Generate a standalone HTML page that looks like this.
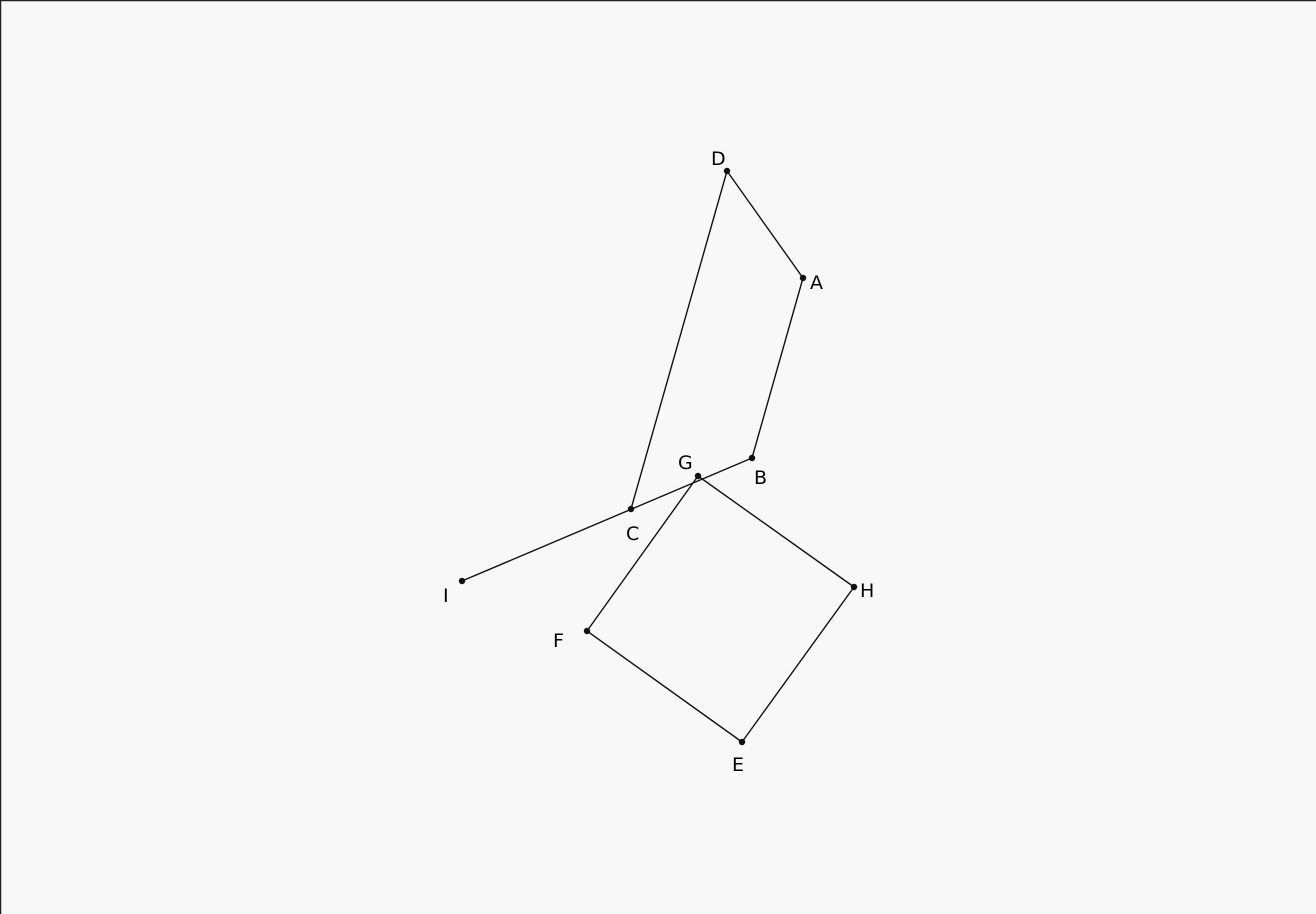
<!DOCTYPE html>
<html><head><meta charset="utf-8"><style>
html,body{margin:0;padding:0;background:#f8f8f8;}
svg{display:block;}
text{font-family:"DejaVu Sans","Liberation Sans",sans-serif;font-size:19px;fill:#000;}
</style></head><body>
<svg id="fig" width="1316" height="914" viewBox="0 0 1316 914">
<rect x="0" y="0" width="1316" height="914" fill="#f8f8f8"/>
<line x1="0.5" y1="0" x2="0.5" y2="914" stroke="#222" stroke-width="1.5"/>
<line x1="0" y1="0.5" x2="1316" y2="0.5" stroke="#222" stroke-width="1.5"/>
<g id="segs"></g><g id="pts"></g><g id="lbls"></g>
</svg>
<script>
const names = ["A","B","C","D","E","F","G","H","I"];
const px = [803,752,631,727,742,587,698,854,462];
const py = [278,458,509,171,742,631,476,587,581];
const labelDx = [7,2,-5,-16,-10,-34,-20,6,-19];
const labelDy = [11,26,31,-6,29,16,-7,10,21];
const edges = [["D","A"],["A","B"],["B","I"],["D","C"],["G","H"],["H","E"],["E","F"],["F","G"]];
const NS="http://www.w3.org/2000/svg";
const idx=n=>names.indexOf(n);
const segs=document.getElementById('segs'),pts=document.getElementById('pts'),lbls=document.getElementById('lbls');
edges.forEach(e=>{
  const a=idx(e[0]),b=idx(e[1]);
  const l=document.createElementNS(NS,'line');
  l.setAttribute('x1',px[a]);l.setAttribute('y1',py[a]);l.setAttribute('x2',px[b]);l.setAttribute('y2',py[b]);
  l.setAttribute('stroke','#111');l.setAttribute('stroke-width','1.4');
  
  
  segs.appendChild(l);
});
names.forEach((n,i)=>{
  const c=document.createElementNS(NS,'circle');
  c.setAttribute('cx',px[i]);c.setAttribute('cy',py[i]);c.setAttribute('r','3.2');c.setAttribute('fill','#111');
  
  
  pts.appendChild(c);
  const t=document.createElementNS(NS,'text');
  t.setAttribute('x',px[i]+labelDx[i]);t.setAttribute('y',py[i]+labelDy[i]);
  t.textContent=n;
  
  
  lbls.appendChild(t);
});
</script>
</body></html>
